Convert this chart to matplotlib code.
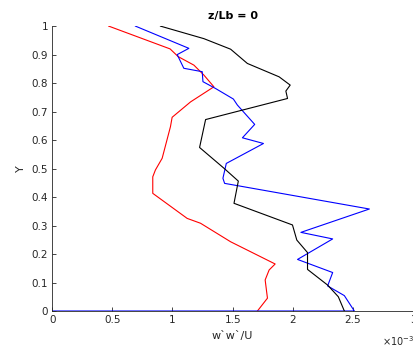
import matplotlib
matplotlib.use('Agg')
import matplotlib.pyplot as plt

# values, x in units of 1e-3
red_x = [0.47, 0.98, 1.047, 1.178, 1.261, 1.344, 1.15, 0.997, 0.983, 0.914, 0.858,
         0.836, 0.836, 1.122, 1.233, 1.483, 1.853, 1.803, 1.77, 1.789, 1.706]
red_y = [1.0, 0.92, 0.893, 0.863, 0.828, 0.787, 0.734, 0.68, 0.647, 0.536, 0.495,
         0.471, 0.413, 0.325, 0.308, 0.243, 0.165, 0.144, 0.109, 0.045, 0.0]

blue_x = [0.692, 1.136, 1.039, 1.094, 1.247, 1.253, 1.358, 1.506, 1.539, 1.683, 1.581,
          1.756, 1.447, 1.419, 1.433, 2.636, 2.067, 2.331, 2.039, 2.331, 2.289, 2.428,
          2.511, 0.0]
blue_y = [1.0, 0.922, 0.90, 0.852, 0.84, 0.805, 0.781, 0.744, 0.723, 0.655, 0.608,
          0.588, 0.518, 0.466, 0.448, 0.358, 0.276, 0.253, 0.181, 0.135, 0.088, 0.054,
          0.0, 0.0]

black_x = [0.9, 1.261, 1.483, 1.622, 1.886, 1.978, 1.942, 1.956, 1.275, 1.225, 1.428,
           1.547, 1.511, 1.997, 2.033, 2.122, 2.122, 2.289, 2.378, 2.428]
black_y = [1.0, 0.956, 0.919, 0.869, 0.822, 0.793, 0.772, 0.746, 0.672, 0.574, 0.501,
           0.456, 0.378, 0.302, 0.249, 0.205, 0.146, 0.091, 0.05, 0.0]

xticks = [0, 0.5, 1, 1.5, 2, 2.5, 3]
yticks = [i / 10 for i in range(11)]

gray = '#262626'


def scale(vals):
    return [v * 1e-3 for v in vals]


def draw():
    fig = plt.figure(figsize=(4.14, 3.53), dpi=100)
    ax = fig.add_axes([0.126, 0.119, 0.872, 0.807])

    ax.plot(scale(red_x), red_y, color='r', lw=0.8)
    ax.plot(scale(blue_x), blue_y, color='b', lw=0.8)
    ax.plot(scale(black_x), black_y, color='k', lw=0.8)

    ax.set_xlim(0, 0.003)
    ax.set_ylim(0, 1)
    ax.set_xticks(scale(xticks))
    ax.set_xticklabels(['%g' % t for t in xticks])
    ax.set_yticks(yticks)
    ax.set_yticklabels(['%g' % t for t in yticks])

    for side in ['top', 'right']:
        ax.spines[side].set_visible(False)
    for side in ['left', 'bottom']:
        ax.spines[side].set_color(gray)
        ax.spines[side].set_linewidth(0.6)
    ax.tick_params(direction='in', length=3, width=0.6, colors=gray,
                   labelsize=7.5, pad=3)

    ax.set_title('z/Lb = 0', fontsize=8, fontweight='bold', pad=5)
    ax.set_xlabel('w`w`/U', fontsize=8, color=gray, labelpad=4)
    ax.set_ylabel('Y', fontsize=8, color=gray, labelpad=4)
    # exponent of the x axis, drawn like matlab does it
    fig.text(0.922, 0.015, r'$\times10^{-3}$', fontsize=7, color=gray,
             ha='left', va='bottom')

    fig.savefig('out.png', dpi=100)


draw()
